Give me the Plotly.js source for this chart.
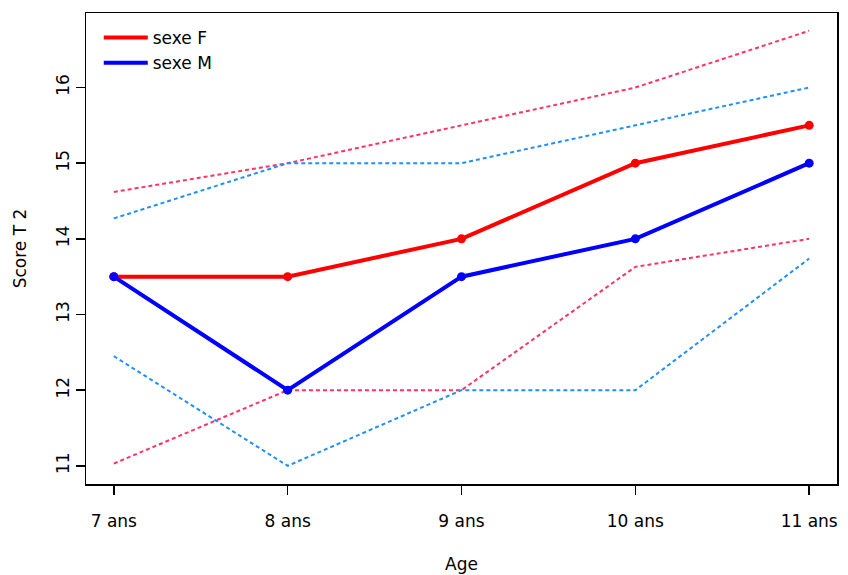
<!DOCTYPE html>
<html><head><meta charset="utf-8">
<script src="https://cdn.plot.ly/plotly-3.0.1.min.js"></script>
<style>body{margin:0;background:#fff}#chart{width:848px;height:575px}</style>
</head><body><div id="chart"></div>
<script>
const ages = [7, 8, 9, 10, 11];
const ageLabels = ["7 ans", "8 ans", "9 ans", "10 ans", "11 ans"];
const meanF = [13.5, 13.5, 14, 15, 15.5];
const meanM = [13.5, 12, 13.5, 14, 15];
const upperF = [14.62, 15, 15.5, 16, 16.75];
const lowerF = [11.03, 12, 12, 13.63, 14];
const upperM = [14.27, 15, 15, 15.5, 16];
const lowerM = [12.45, 11, 12, 12, 13.74];

const fnt = "DejaVu Sans, Liberation Sans, Arial, sans-serif";
const dotted = (y, c) => ({x: ages, y: y, mode: "lines", showlegend: false, hoverinfo: "skip",
  line: {color: c, width: 2, dash: "4px,3px"}});
const mean = (y, c, n) => ({x: ages, y: y, name: n, mode: "lines+markers", showlegend: false,
  line: {color: c, width: 4}, marker: {color: c, size: 9}});
const legendEntry = (c, n) => ({x: [null], y: [null], name: n, mode: "lines", showlegend: true,
  line: {color: c, width: 4}});
const traces = [
  dotted(upperF, "#FF3366"), dotted(lowerF, "#FF3366"),
  dotted(upperM, "#1E90FF"), dotted(lowerM, "#1E90FF"),
  mean(meanF, "#FF0000", "sexe F"), mean(meanM, "#0000FF", "sexe M"),
  legendEntry("#FF0000", "sexe F"), legendEntry("#0000FF", "sexe M")
];
const layout = {
  width: 848, height: 575,
  margin: {l: 86, r: 11, t: 13, b: 91},
  paper_bgcolor: "#fff", plot_bgcolor: "#fff",
  font: {family: fnt, size: 16, color: "#000"},
  showlegend: true,
  legend: {x: 0.017, y: 0.985, xanchor: "left", yanchor: "top", bgcolor: "rgba(0,0,0,0)",
    font: {family: fnt, size: 17}, itemwidth: 44, tracegroupgap: 0, traceorder: "normal"},
  xaxis: {range: [6.84, 11.16], tickvals: ages, ticktext: ageLabels, showgrid: false, zeroline: false,
    showline: true, mirror: true, linecolor: "#000", linewidth: 1.5,
    ticks: "outside", ticklen: 9, tickwidth: 1.5, tickcolor: "#000", ticklabelstandoff: 12,
    tickfont: {family: fnt, size: 17},
    title: {text: "Age", font: {family: fnt, size: 17}, standoff: 28}},
  yaxis: {range: [10.76, 16.985], tickvals: [11, 12, 13, 14, 15, 16], showgrid: false, zeroline: false,
    showline: true, mirror: true, linecolor: "#000", linewidth: 1.5,
    ticks: "outside", ticklen: 9, tickwidth: 1.5, tickcolor: "#000", tickangle: -90,
    tickfont: {family: fnt, size: 17},
    title: {text: "Score T 2", font: {family: fnt, size: 17}, standoff: 22}}
};
Plotly.newPlot("chart", traces, layout, {displayModeBar: false, staticPlot: true});
</script></body></html>
